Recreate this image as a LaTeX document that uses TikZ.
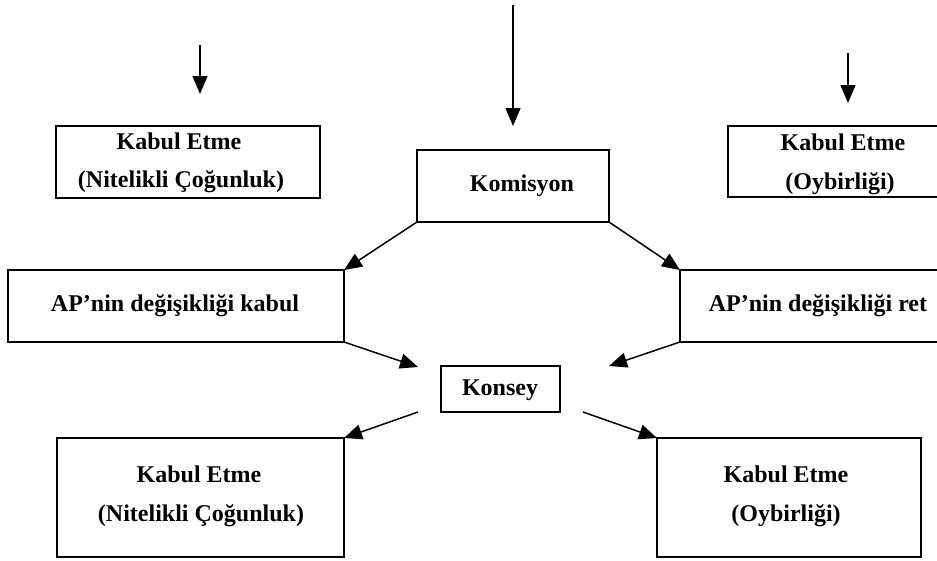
\documentclass[tikz,border=0pt]{standalone}
\usepackage{fontspec}
\setmainfont{Liberation Serif}
\usetikzlibrary{arrows.meta}
\tikzset{
  box/.style={draw, line width=1.8pt, rectangle, inner sep=0pt, outer sep=0pt},
  txt/.style={font=\fontsize{24}{29}\selectfont\bfseries, inner sep=0pt,
              text height=0.7em, text depth=0.2em},
  flow/.style={line width=1.5pt, -{Triangle[length=18pt,width=15pt]}}
}
\newcommand{\boxat}[5]{% name, x1, y1, x2, y2
  \node[box, minimum width={(#4-#2)*1pt}, minimum height={(#5-#3)*1pt}]
    (#1) at ({(#2+#4)/2},{(#3+#5)/2}) {};}
\begin{document}
\begin{tikzpicture}[x=1pt,y=-1pt]
  \clip (0,0) rectangle (937,560);
  \fill[white] (0,0) rectangle (937,560);

  % boxes
  \boxat{tl}{56}{126}{320}{198}
  \boxat{tr}{728}{126}{950}{197}
  \boxat{kom}{417}{150}{609}{222}
  \boxat{kabul}{8}{270}{344}{342}
  \boxat{ret}{680}{270}{950}{342}
  \boxat{kon}{441}{366}{560}{412}
  \boxat{bl}{57}{438}{344}{557}
  \boxat{br}{657}{438}{921}{557}

  % texts
  \node[txt] (tl1) at (179,147) {Kabul Etme};
  \node[txt] (tl2) at (181,185) {(Nitelikli Çoğunluk)};
  \node[txt] (tr1) at (843,148) {Kabul Etme};
  \node[txt] (tr2) at (840,187) {(Oybirliği)};
  \node[txt] (komt) at (522,189) {Komisyon};
  \node[txt] (kabt) at (175,309) {AP’nin değişikliği kabul};
  \node[txt] (rett) at (818,309) {AP’nin değişikliği ret};
  \node[txt] (kont) at (500,393) {Konsey};
  \node[txt] (bl1) at (199,480) {Kabul Etme};
  \node[txt] (bl2) at (201,519) {(Nitelikli Çoğunluk)};
  \node[txt] (br1) at (786,480) {Kabul Etme};
  \node[txt] (br2) at (786,519) {(Oybirliği)};

  % free ends of connectors
  \coordinate (s1) at (200,45);
  \coordinate (e1) at (200,94);
  \coordinate (s2) at (513,5);
  \coordinate (e2) at (513,126);
  \coordinate (s3) at (848,53);
  \coordinate (e3) at (848,103);
  \coordinate (k1) at (418,367);
  \coordinate (k2) at (609,366);
  \coordinate (k3) at (418,412);
  \coordinate (k4) at (583,412);

  % connectors
  \draw[flow] (s1) -- (e1);
  \draw[flow] (s2) -- (e2);
  \draw[flow] (s3) -- (e3);
  \draw[flow] (kom.south west) -- (kabul.north east);
  \draw[flow] (kom.south east) -- (ret.north west);
  \draw[flow] (kabul.south east) -- (k1);
  \draw[flow] (ret.south west) -- (k2);
  \draw[flow] (k3) -- (bl.north east);
  \draw[flow] (k4) -- (br.north west);
\end{tikzpicture}
\end{document}
